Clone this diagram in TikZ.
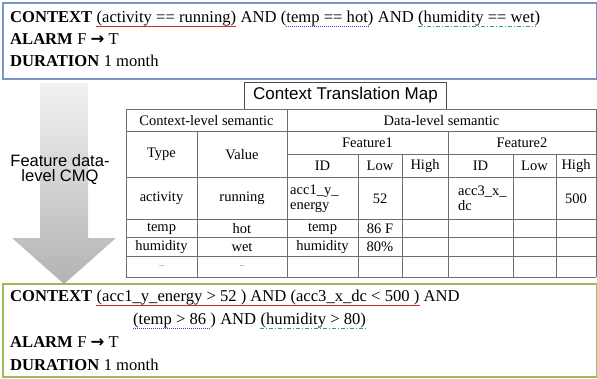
\documentclass[tikz,border=0pt]{standalone}
\usepackage{fontspec}
\setmainfont{Liberation Serif}
\setsansfont{Liberation Sans}
\newfontfamily\arrowfont{DejaVu Sans}
\usetikzlibrary{calc}
\definecolor{boxblue}{RGB}{120,150,195}
\definecolor{boxgreen}{RGB}{155,187,89}
\definecolor{ulred}{RGB}{205,45,45}
\definecolor{ulblue}{RGB}{60,60,210}
\definecolor{ulgreen}{RGB}{40,170,90}
\definecolor{gridc}{RGB}{110,110,110}
\newcommand{\thickarrow}{{\arrowfont\bfseries\fontsize{16.5}{19}\selectfont →}}
\begin{document}
\begin{tikzpicture}[x=1pt,y=-1pt,
  txt/.style={inner sep=0pt, anchor=base west, font=\fontsize{16.6}{19}\selectfont},
  tcell/.style={inner sep=0pt, font=\fontsize{14.5}{15}\selectfont},
  gridl/.style={draw=gridc, line width=0.9pt},
  redul/.style={draw=ulred, line width=1.5pt},
  blueul/.style={draw=ulblue, line width=1.4pt, dash pattern=on 1pt off 1pt},
  greenul/.style={draw=ulgreen, line width=1.2pt, dash pattern=on 4pt off 2pt on 1pt off 2pt},
  frame/.style={line width=1.5pt, inner sep=0pt, anchor=north west},
]
\useasboundingbox (0,0) rectangle (597,378);

% top box
\node[frame, draw=boxblue, minimum width=594pt, minimum height=76pt] (topbox) at (2,2) {};
\node[txt] (t1) at (10,22) {\bfseries CONTEXT};
\node[txt] (t1a) at ([xshift=4pt]t1.base east) {(activity == running)};
\node[txt] (t1b) at ([xshift=4pt]t1a.base east) {AND};
\node[txt] (t1c) at ([xshift=4pt]t1b.base east) {(temp == hot)};
\node[txt] (t1d) at ([xshift=4pt]t1c.base east) {AND};
\node[txt] (t1e) at ([xshift=4pt]t1d.base east) {(humidity == wet)};
\draw[redul] ([yshift=-4.5pt]t1a.base west) -- ([yshift=-4.5pt]t1a.base east);
\draw[blueul] ([shift={(5pt,-4.5pt)}]t1c.base west) -- ([shift={(-5pt,-4.5pt)}]t1c.base east);
\draw[greenul] ([yshift=-4.5pt]t1e.base west) -- ([shift={(-4pt,-4.5pt)}]t1e.base east);
\node[txt] (t2) at (10,44) {\bfseries ALARM};
\node[txt] (t2a) at ([xshift=4pt]t2.base east) {F \thickarrow\ T};
\node[txt] (t3) at (10,66) {\bfseries DURATION};
\node[txt] (t3a) at ([xshift=4pt]t3.base east) {1 month};

% arrow
\path[top color=gray!10, bottom color=gray!60, draw=none]
  (40,83) -- (88,83) -- (88,238) -- (116,238) -- (64,284) -- (12,238) -- (40,238) -- cycle;
\node[align=center, font=\sffamily\fontsize{16.5}{15}\selectfont, inner sep=0pt] (arrowtxt) at (60,170) {Feature data-\\level CMQ};

% title
\node[draw=black!70, line width=0.8pt, minimum width=202pt, minimum height=27pt,
  font=\sffamily\fontsize{17}{19}\selectfont, inner sep=0pt] (title) at (345.5,95.5) {Context Translation Map};

% table grid
\draw[gridl] (126,109) -- (596,109);
\draw[gridl] (126,131) -- (596,131);
\draw[gridl] (287,154) -- (596,154);
\foreach \yy in {177,219,237,256,277} \draw[gridl] (126,\yy) -- (596,\yy);
\draw[gridl] (126,109) -- (126,277);
\draw[gridl] (287,109) -- (287,277);
\draw[gridl] (596,109) -- (596,277);
\draw[gridl] (197,131) -- (197,277);
\draw[gridl] (448,131) -- (448,277);
\foreach \xx in {358,402,513,556} \draw[gridl] (\xx,154) -- (\xx,277);

% table cells
\node[tcell] (hctx) at (206.5,120.5) {Context-level semantic};
\node[tcell] (hdat) at (441.5,120.5) {Data-level semantic};
\node[tcell] (htype) at (161.5,154.5) {Type};
\node[tcell] (hval) at (242,154.5) {Value};
\node[tcell] (hf1) at (367.5,143) {Feature1};
\node[tcell] (hf2) at (522,143) {Feature2};
\node[tcell] (id1) at (322.5,166) {ID};
\node[tcell] (lo1) at (380,166) {Low};
\node[tcell] (hi1) at (425,166) {High};
\node[tcell] (id2) at (480.5,166) {ID};
\node[tcell] (lo2) at (534.5,166) {Low};
\node[tcell] (hi2) at (576,166) {High};

\node[tcell] (r1a) at (161.5,198.5) {activity};
\node[tcell] (r1b) at (242,198.5) {running};
\node[tcell, anchor=west, align=left] (r1c) at (290,198.5) {acc1\_y\_\\energy};
\node[tcell] (r1d) at (380,198.5) {52};
\node[tcell, anchor=west, align=left] (r1e) at (458,198.5) {acc3\_x\_\\dc};
\node[tcell] (r1f) at (576,198.5) {500};

\node[tcell] (r2a) at (161.5,228.5) {temp};
\node[tcell] (r2b) at (242,228.5) {hot};
\node[tcell] (r2c) at (322.5,228.5) {temp};
\node[tcell] (r2d) at (380,228.5) {86 F};

\node[tcell] (r3a) at (161.5,247) {humidity};
\node[tcell] (r3b) at (242,247) {wet};
\node[tcell] (r3c) at (322.5,247) {humidity};
\node[tcell] (r3d) at (380,247) {80\%};

\node[tcell, font=\fontsize{6}{7}\selectfont] (r4a) at (161.5,266) {...};
\node[tcell, font=\fontsize{6}{7}\selectfont] (r4b) at (242,266) {...};

% bottom box
\node[frame, draw=boxgreen, minimum width=594pt, minimum height=93pt] (botbox) at (2,283) {};
\node[txt] (b1) at (10,301) {\bfseries CONTEXT};
\node[txt] (b1a) at ([xshift=4pt]b1.base east) {(acc1\_y\_energy > 52 ) AND (acc3\_x\_dc < 500 )};
\node[txt] (b1b) at ([xshift=4pt]b1a.base east) {AND};
\node[txt] (b2a) at (133,324) {(temp > 86 )};
\node[txt] (b2b) at ([xshift=4pt]b2a.base east) {AND};
\node[txt] (b2c) at ([xshift=4pt]b2b.base east) {(humidity > 80)};
\draw[redul] ([yshift=-4.5pt]b1a.base west) -- ([yshift=-4.5pt]b1a.base east);
\draw[blueul] ([yshift=-4.5pt]b2a.base west) -- ([shift={(-6pt,-4.5pt)}]b2a.base east);
\draw[greenul] ([yshift=-4.5pt]b2c.base west) -- ([yshift=-4.5pt]b2c.base east);
\node[txt] (b3) at (10,347) {\bfseries ALARM};
\node[txt] (b3a) at ([xshift=4pt]b3.base east) {F \thickarrow\ T};
\node[txt] (b4) at (10,370) {\bfseries DURATION};
\node[txt] (b4a) at ([xshift=4pt]b4.base east) {1 month};
\end{tikzpicture}
\end{document}
